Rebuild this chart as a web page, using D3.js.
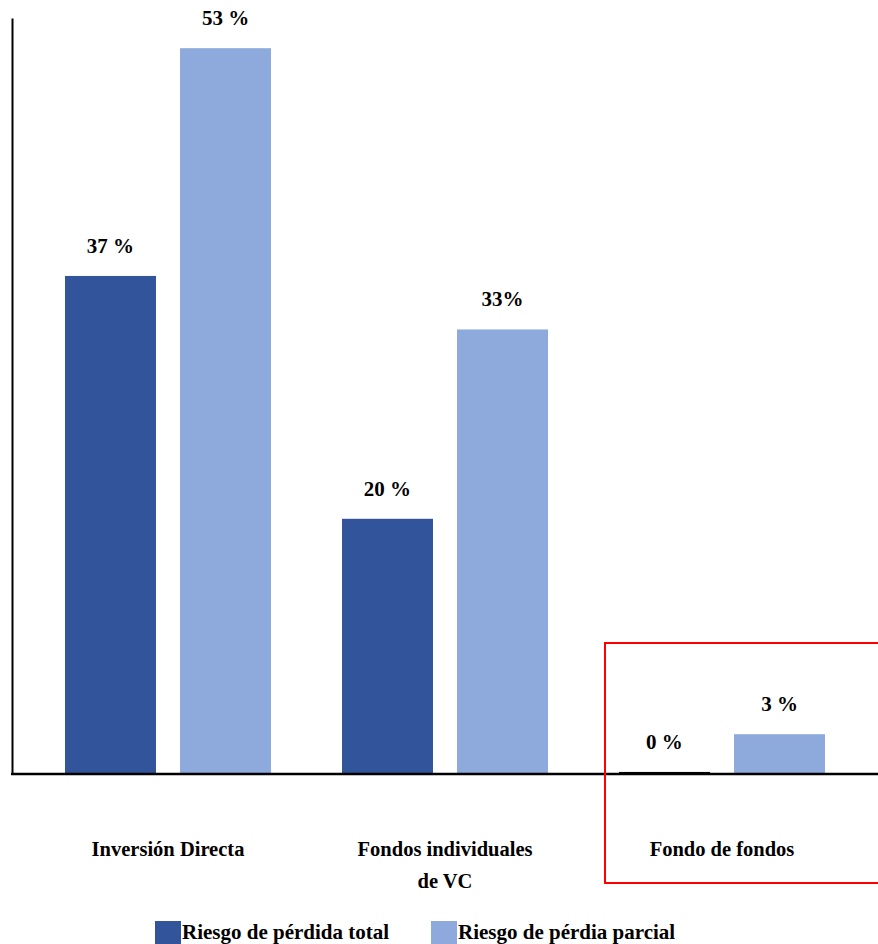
<!DOCTYPE html>
<html>
<head>
<meta charset="utf-8">
<script src="https://cdn.jsdelivr.net/npm/d3@7"></script>
<style>
  body { margin: 0; background: #fff; }
  text { font-family: "Liberation Serif", "Times New Roman", serif; font-weight: bold; fill: #000; }
</style>
</head>
<body>
<div id="chart"></div>
<script>
//categories (multi-line labels split by "|")
var categories = ["Inversión Directa", "Fondos individuales|de VC", "Fondo de fondos"];

//series names
var seriesNames = ["Riesgo de pérdida total", "Riesgo de pérdia parcial"];

//bar heights
var totalValues = [36.3, 18.6, 0.15];
var partialValues = [52.9, 32.4, 2.9];

//printed labels
var totalLabels = ["37 %", "20 %", "0 %"];
var partialLabels = ["53 %", "33%", "3 %"];

var colors = ["#31549a", "#8eaadc"];

var width = 878;
var height = 944;

var svg = d3
  .select("#chart")
  .append("svg")
  .attr("width", width)
  .attr("height", height);

//scales
var x0 = d3
  .scaleBand()
  .domain(categories)
  .range([29.5, 860.5])
  .padding(0);

var x1 = d3
  .scaleBand()
  .domain(seriesNames)
  .range([35.5, 241.5])
  .paddingInner(0.209)
  .paddingOuter(0);

var y = d3
  .scaleLinear()
  .domain([0, 55.1])
  .range([774, 18]);

//build rows for the bars
var rows = [];
categories.forEach(function(c, i) {
  rows.push({ cat: c, series: seriesNames[0], value: totalValues[i], label: totalLabels[i], color: colors[0] });
  rows.push({ cat: c, series: seriesNames[1], value: partialValues[i], label: partialLabels[i], color: colors[1] });
});

//bars
svg
  .selectAll(".bar")
  .data(rows)
  .enter()
  .append("rect")
  .attr("class", "bar")
  .attr("x", function(d) {
    return x0(d.cat) + x1(d.series);
  })
  .attr("y", function(d) {
    return y(d.value);
  })
  .attr("width", x1.bandwidth())
  .attr("height", function(d) {
    return y(0) - y(d.value);
  })
  .attr("fill", function(d) {
    return d.value < 1 ? "#000" : d.color;
  });

//value labels
svg
  .selectAll(".vlabel")
  .data(rows)
  .enter()
  .append("text")
  .attr("class", "vlabel")
  .attr("x", function(d) {
    return x0(d.cat) + x1(d.series) + x1.bandwidth() / 2;
  })
  .attr("y", function(d) {
    return y(d.value) - 23;
  })
  .attr("text-anchor", "middle")
  .style("font-size", "21px")
  .text(function(d) {
    return d.label;
  });

//axes (no ticks, just the lines)
svg
  .append("g")
  .attr("transform", "translate(12,0)")
  .call(d3.axisLeft(y).ticks(0).tickSizeOuter(0))
  .select(".domain")
  .attr("stroke", "#000")
  .attr("stroke-width", 2);

svg
  .append("line")
  .attr("x1", 11)
  .attr("x2", width)
  .attr("y1", y(0))
  .attr("y2", y(0))
  .attr("stroke", "#000")
  .attr("stroke-width", 2.5);

//category labels
var catLabels = svg
  .selectAll(".clabel")
  .data(categories)
  .enter()
  .append("text")
  .attr("class", "clabel")
  .attr("text-anchor", "middle")
  .style("font-size", "20.5px")
  .attr("transform", function(d) {
    return "translate(" + (x0(d) + x0.bandwidth() / 2) + ",856)";
  });

catLabels
  .selectAll("tspan")
  .data(function(d) {
    return d.split("|");
  })
  .enter()
  .append("tspan")
  .attr("x", 0)
  .attr("y", function(d, i) {
    return i * 32;
  })
  .text(function(d) {
    return d;
  });

//red highlight box around the last category
svg
  .append("rect")
  .attr("x", 605)
  .attr("y", 643)
  .attr("width", 290)
  .attr("height", 240)
  .attr("fill", "none")
  .attr("stroke", "#ff0000")
  .attr("stroke-width", 2);

//legend
var legendX = [155, 431];
var legend = svg
  .selectAll(".legend")
  .data(seriesNames)
  .enter()
  .append("g")
  .attr("class", "legend")
  .attr("transform", function(d, i) {
    return "translate(" + legendX[i] + ",921)";
  });

legend
  .append("rect")
  .attr("width", 26)
  .attr("height", 23)
  .attr("fill", function(d, i) {
    return colors[i];
  });

legend
  .append("text")
  .attr("x", 27)
  .attr("y", 18)
  .style("font-size", "21px")
  .text(function(d) {
    return d;
  });
</script>
</body>
</html>
